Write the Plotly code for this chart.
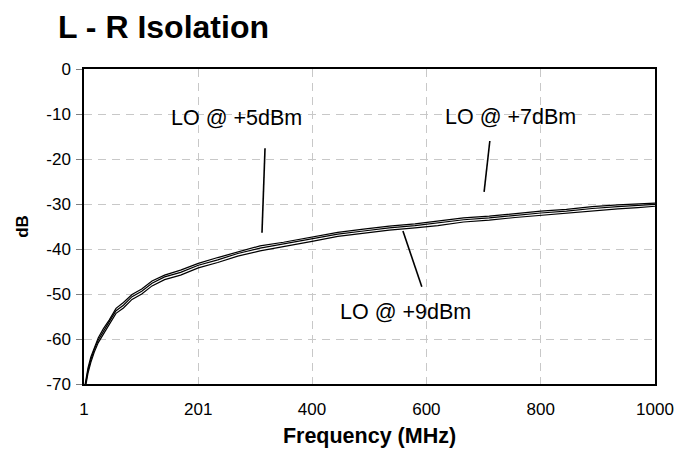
import plotly.graph_objects as go

freq = [1, 4, 8, 13, 19, 26, 35, 45, 57, 70, 85, 102, 120, 142, 170, 201, 235, 270, 309, 350,
        400, 445, 490, 535, 580, 620, 665, 710, 755, 800, 845, 890, 935, 970, 1000]

lo5 = [-71.5, -69.2, -66.4, -64.0, -61.8, -59.7, -57.7, -55.8, -53.2, -51.9, -50.1, -48.9, -47.1,
       -45.8, -44.7, -43.2, -41.9, -40.6, -39.3, -38.5, -37.3, -36.3, -35.6, -34.9, -34.4, -33.8,
       -33.1, -32.7, -32.1, -31.6, -31.2, -30.6, -30.2, -29.9, -29.8]
lo7 = [-72.0, -69.8, -67.0, -64.6, -62.3, -60.2, -58.2, -56.2, -53.7, -52.5, -50.6, -49.4, -47.6,
       -46.2, -45.2, -43.6, -42.4, -41.0, -39.8, -38.9, -37.7, -36.7, -36.0, -35.3, -34.8, -34.2,
       -33.5, -33.1, -32.5, -32.0, -31.6, -31.0, -30.6, -30.3, -30.1]
lo9 = [-72.5, -70.4, -67.6, -65.2, -62.9, -60.8, -58.8, -56.8, -54.3, -53.1, -51.2, -50.0, -48.2,
       -46.8, -45.8, -44.2, -43.0, -41.6, -40.4, -39.5, -38.3, -37.2, -36.5, -35.8, -35.3, -34.8,
       -34.0, -33.6, -33.0, -32.5, -32.1, -31.5, -31.1, -30.8, -30.5]

x_tickvals = [1, 201, 400, 600, 800, 1000]
x_ticktext = ["1", "201", "400", "600", "800", "1000"]
y_tickvals = [0, -10, -20, -30, -40, -50, -60, -70]
y_ticktext = ["0", "-10", "-20", "-30", "-40", "-50", "-60", "-70"]

labels = ["LO @ +5dBm", "LO @ +7dBm", "LO @ +9dBm"]
label_x = [267, 748, 563]
label_y = [-10.9, -10.7, -54.0]
pointer_x0 = [317.7, 711, 559]
pointer_y0 = [-17.6, -16.0, -36.0]
pointer_x1 = [312.4, 701, 592]
pointer_y1 = [-36.4, -27.3, -48.4]

FONT = "Liberation Sans, Arial, sans-serif"

fig = go.Figure()
for ys in (lo5, lo7, lo9):
    fig.add_trace(go.Scatter(x=freq, y=ys, mode="lines",
                             line=dict(color="black", width=1.2), showlegend=False,
                             cliponaxis=True))

for t, lx, ly in zip(labels, label_x, label_y):
    fig.add_annotation(x=lx, y=ly, xref="x", yref="y", text=t, showarrow=False,
                       font=dict(family=FONT, size=21.5, color="black"),
                       xanchor="center", yanchor="middle")

for x0, y0, x1, y1 in zip(pointer_x0, pointer_y0, pointer_x1, pointer_y1):
    fig.add_shape(type="line", x0=x0, y0=y0, x1=x1, y1=y1, xref="x", yref="y",
                  line=dict(color="black", width=1.6))

# page body adds an 8px offset, so the figure is sized to 680x449
W, H = 680, 449
fig.update_layout(
    width=W, height=H,
    margin=dict(l=76, r=33, t=61, b=73),
    paper_bgcolor="white", plot_bgcolor="white",
    font=dict(family=FONT, color="black"),
    title=dict(text="<b>L - R Isolation</b>", x=50 / W, xref="container", xanchor="left",
               y=1 - 19 / H, yref="container", yanchor="middle",
               font=dict(family=FONT, size=32, color="black")),
)

fig.update_xaxes(
    range=[1, 1000], tickvals=x_tickvals, ticktext=x_ticktext, automargin=False,
    showline=True, linecolor="black", linewidth=1.5, mirror=True,
    ticks="", ticklabelstandoff=9,
    tickfont=dict(family=FONT, size=17, color="black"),
    showgrid=True, gridcolor="#c8c8c8", griddash="8px,6px", gridwidth=1,
    zeroline=False,
    title=dict(text="<b>Frequency (MHz)</b>", font=dict(family=FONT, size=21.5, color="black"),
               standoff=10),
)
fig.update_yaxes(
    range=[-70, 0], tickvals=y_tickvals, ticktext=y_ticktext, automargin=False,
    showline=True, linecolor="black", linewidth=1.5, mirror=True,
    ticks="outside", ticklen=6, tickcolor="#808080", ticklabelstandoff=2,
    tickfont=dict(family=FONT, size=17, color="black"),
    showgrid=True, gridcolor="#c8c8c8", griddash="8px,6px", gridwidth=1,
    zeroline=False,
    title=dict(text="<b>dB</b>", font=dict(family=FONT, size=17, color="black"), standoff=13),
)

fig.write_html("out.html")
